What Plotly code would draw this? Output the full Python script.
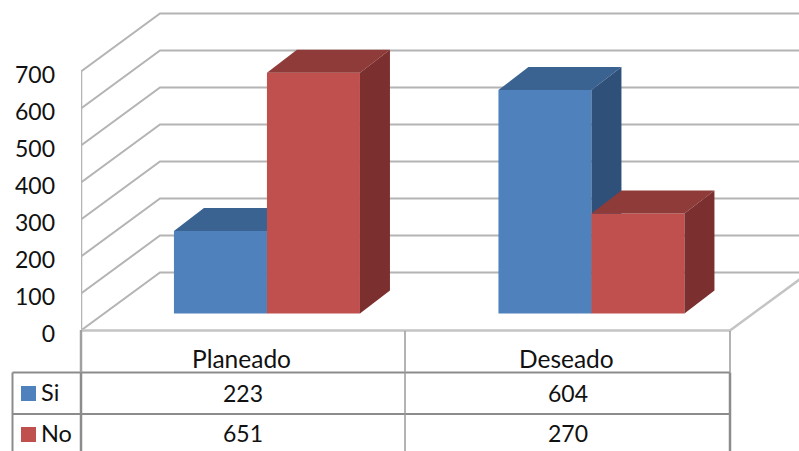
import plotly.graph_objects as go

categories = ["Planeado", "Deseado"]
si_values = [223, 604]
no_values = [651, 270]
tick_values = [0, 100, 200, 300, 400, 500, 600, 700]

W, H = 799, 451
LEFT = 81
CAT_PX = 324.5
PX_PER_UNIT = 0.37
ZERO_PX = 330.5
X_MAX = (W - LEFT) / CAT_PX
Y_TOP = ZERO_PX / PX_PER_UNIT
Y_BOT = -(H - ZERO_PX) / PX_PER_UNIT
FONT = "Lato"
FS = 23

BLUE, BLUE_TOP, BLUE_SIDE = "#4F81BD", "#3A6392", "#2F5079"
RED, RED_TOP, RED_SIDE = "#C0504D", "#8F3B39", "#7B2F2E"
GRID = "#B4B4B4"
TABLE = "#8C8C8C"

wall_dx, wall_dy = 79 / CAT_PX, 58 / PX_PER_UNIT
bar_w = 93 / CAT_PX
group_shift = 23.7 / CAT_PX
depth_dx, depth_dy = 30 / CAT_PX, 23 / PX_PER_UNIT
floor_dy = 17 / PX_PER_UNIT


def px(p):
    return (p - LEFT) / (W - LEFT)


def py(p):
    return (H - p) / H


fig = go.Figure()

# invisible trace that keeps the label axis alive
fig.add_trace(go.Scatter(x=[0, 0], y=tick_values[:2], mode="lines", line=dict(width=0),
                         yaxis="y", hoverinfo="skip", showlegend=False))

# walls and floor
for v in tick_values:
    fig.add_trace(go.Scatter(x=[0, wall_dx, X_MAX], y=[v, v + wall_dy, v + wall_dy], mode="lines",
                             line=dict(color=GRID, width=2), yaxis="y2", cliponaxis=False,
                             hoverinfo="skip", showlegend=False))
fig.add_trace(go.Scatter(x=[0, 0], y=[0, tick_values[-1]], mode="lines",
                         line=dict(color=GRID, width=2.5), yaxis="y2", cliponaxis=False,
                         hoverinfo="skip", showlegend=False))
fig.add_trace(go.Scatter(x=[0, 2, 2 + wall_dx], y=[0, 0, wall_dy], mode="lines",
                         line=dict(color="#C4C4C4", width=2.5), yaxis="y2", cliponaxis=True,
                         hoverinfo="skip", showlegend=False))


def add_series(name, values, offset, front, top, side, yaxis):
    lefts = [i + 0.5 + group_shift + offset for i in range(len(values))]
    fig.add_trace(go.Bar(x=[l + bar_w / 2 for l in lefts], y=values, base=[floor_dy] * len(values),
                         width=bar_w, marker=dict(color=front, line=dict(width=0)),
                         name=name, yaxis=yaxis, showlegend=False))
    for l, v in zip(lefts, values):
        t = v + floor_dy
        r = l + bar_w
        fig.add_trace(go.Scatter(x=[l, l + depth_dx, r + depth_dx, r, l],
                                 y=[t, t + depth_dy, t + depth_dy, t, t],
                                 mode="lines", fill="toself", fillcolor=top, line=dict(width=0),
                                 yaxis=yaxis, hoverinfo="skip", showlegend=False))
        fig.add_trace(go.Scatter(x=[r, r + depth_dx, r + depth_dx, r, r],
                                 y=[t, t + depth_dy, floor_dy + depth_dy, floor_dy, t],
                                 mode="lines", fill="toself", fillcolor=side, line=dict(width=0),
                                 yaxis=yaxis, hoverinfo="skip", showlegend=False))


add_series("Si", si_values, -bar_w, BLUE, BLUE_TOP, BLUE_SIDE, "y3")
add_series("No", no_values, 0, RED, RED_TOP, RED_SIDE, "y4")

# data table
shapes = []


def line(x0, y0, x1, y1, color=TABLE, width=2):
    shapes.append(dict(type="line", xref="paper", yref="paper", x0=px(x0), y0=py(y0), x1=px(x1), y1=py(y1),
                       line=dict(color=color, width=width), layer="above"))


line(12.5, 372.5, 730, 372.5)
line(12.5, 414, 730, 414)
line(12.5, 372.5, 12.5, 451)
line(81, 330, 81, 372.5, color="#A0A0A0", width=2.5)
line(81, 372.5, 81, 451, color="#8C8C8C", width=2.5)
line(405, 331, 405, 451, color="#9A9A9A", width=1.5)
line(730, 331, 730, 372.5, color="#9A9A9A", width=1.5)
line(730, 372.5, 730, 451, color="#8C8C8C", width=2.5)

for y0, color in [(386, BLUE), (427, RED)]:
    shapes.append(dict(type="rect", xref="paper", yref="paper", x0=px(21), x1=px(36), y0=py(y0), y1=py(y0 + 15),
                       fillcolor=color, line=dict(width=0), layer="above"))

annotations = []


def label(text, xval, xref, y, anchor="center", size=FS):
    annotations.append(dict(text=text, x=xval, xref=xref, y=py(y), yref="paper", xanchor=anchor,
                            yanchor="middle", showarrow=False, font=dict(family=FONT, size=size, color="#111111")))


for i, c in enumerate(categories):
    label(c, i + 0.495, "x", 358, size=24.5)
    label(str(si_values[i]), i + 0.5, "x", 393)
    label(str(no_values[i]), i + 0.5, "x", 433)
label("Si", px(39), "paper", 392, "left", size=23.5)
label("No", px(39), "paper", 433, "left", size=23.5)

hidden = dict(visible=False, range=[Y_BOT, Y_TOP], overlaying="y", fixedrange=True)
label_shift = 3.5 / PX_PER_UNIT
fig.update_layout(
    width=W, height=H, margin=dict(l=LEFT, r=0, t=0, b=0), paper_bgcolor="white", plot_bgcolor="white",
    barmode="overlay", showlegend=False, shapes=shapes, annotations=annotations,
    font=dict(family=FONT, size=FS, color="#111111"),
    xaxis=dict(range=[0, X_MAX], visible=False, fixedrange=True),
    yaxis=dict(range=[Y_BOT + label_shift, Y_TOP + label_shift], tickvals=tick_values, showgrid=False, zeroline=False,
               showline=False, ticks="", ticklabelstandoff=25, tickfont=dict(family=FONT, size=FS, color="#111111"),
               fixedrange=True),
    yaxis2=hidden, yaxis3=hidden, yaxis4=hidden,
)
fig.write_html("out.html", config=dict(displayModeBar=False),
               post_script="document.body.style.margin='0';document.body.style.overflow='hidden';")
